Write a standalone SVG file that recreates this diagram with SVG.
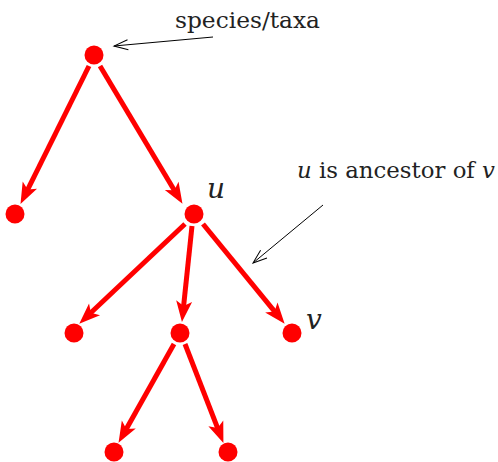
<svg xmlns="http://www.w3.org/2000/svg" width="498" height="462" viewBox="0 0 498 462">
<style>
.node{fill:#ff0000}
.edge{stroke:#ff0000;stroke-width:5;fill:none;marker-end:url(#rh)}
.ann{stroke:#000;stroke-width:1;fill:none;marker-end:url(#oh)}
.t{fill:#222}
</style>
<defs>
<marker id="rh" markerUnits="userSpaceOnUse" markerWidth="30" markerHeight="20" refX="8" refY="8" orient="auto" overflow="visible">
<path d="M21,8 L0,0 L5,8 L0,16 Z" fill="#ff0000"/>
</marker>
<marker id="oh" markerUnits="userSpaceOnUse" markerWidth="20" markerHeight="14" refX="14" refY="5" orient="auto" overflow="visible">
<path d="M0,0 L14,5 L0,10" fill="none" stroke="#000" stroke-width="1"/>
</marker>
</defs>
<g id="connectors">
<line class="edge" x1="89" y1="66" x2="26.3" y2="192.3"/>
<line class="edge" x1="100" y1="66" x2="175.8" y2="192.7"/>
<line class="edge" x1="185" y1="224" x2="88.7" y2="314.8"/>
<line class="edge" x1="192" y1="226" x2="183.3" y2="309.1"/>
<line class="edge" x1="203" y1="224" x2="276.4" y2="313.7"/>
<line class="edge" x1="174" y1="344" x2="124.9" y2="431.5"/>
<line class="edge" x1="185" y1="344" x2="218.7" y2="430.8"/>
<line class="ann" x1="213" y1="37" x2="114" y2="46"/>
<line class="ann" x1="323" y1="205" x2="253" y2="263"/>
</g>
<g id="root"><circle class="node" cx="94" cy="55" r="9.5"/></g>
<g id="leaf1"><circle class="node" cx="15" cy="214" r="9.5"/></g>
<g id="u"><circle class="node" cx="194" cy="214" r="9.5"/></g>
<g id="c1"><circle class="node" cx="74" cy="333" r="9.5"/></g>
<g id="c2"><circle class="node" cx="180" cy="333" r="9.5"/></g>
<g id="v"><circle class="node" cx="292" cy="333" r="9.5"/></g>
<g id="g1"><circle class="node" cx="114" cy="452" r="9.5"/></g>
<g id="g2"><circle class="node" cx="228" cy="452" r="9.5"/></g>
<g id="labels" font-family="'DejaVu Serif', 'Liberation Serif', serif">
<text class="t" x="175" y="28" font-size="22" textLength="145" lengthAdjust="spacingAndGlyphs">species/taxa</text>
<text class="t" x="297" y="178" font-size="22" textLength="198" lengthAdjust="spacingAndGlyphs"><tspan font-style="italic">u</tspan> is ancestor of <tspan font-style="italic">v</tspan></text>
<text class="t" x="207" y="198" font-size="28" font-style="italic">u</text>
<text class="t" x="306" y="329" font-size="28" font-style="italic">v</text>
</g>
</svg>
